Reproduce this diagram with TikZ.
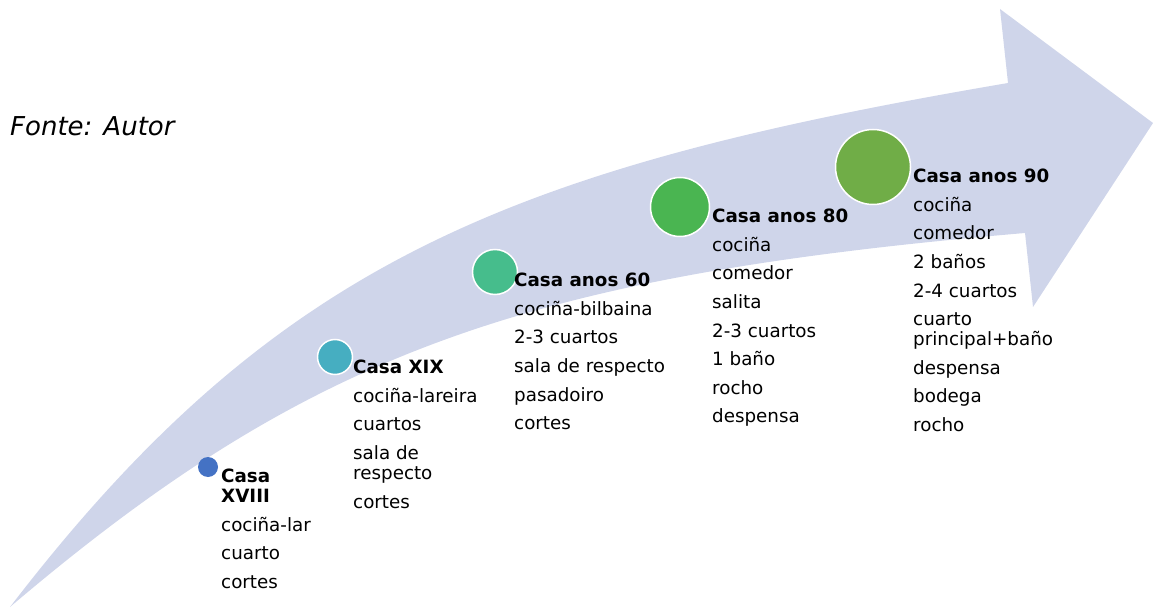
\documentclass[tikz,border=0pt]{standalone}
\usepackage{fontspec}
\setmainfont{DejaVu Sans}[BoldFont={DejaVu Sans Bold},ItalicFont={DejaVu Sans Oblique}]

\definecolor{fleche}{RGB}{207,213,234}
\definecolor{bleu}{RGB}{68,114,196}
\definecolor{turq}{RGB}{70,174,193}
\definecolor{vertbleu}{RGB}{70,189,140}
\definecolor{vert}{RGB}{74,181,81}
\definecolor{vertclair}{RGB}{112,173,71}

\begin{document}
\begin{tikzpicture}[x=1pt,y=-1pt,
  point/.style={circle, draw=white, line width=1.5pt, inner sep=0pt},
  texte/.style={anchor=north west, inner sep=0pt, align=left, font=\fontsize{18.3}{20}\selectfont}]

\useasboundingbox (0,0) rectangle (1153,609);

% La flèche
\fill[fleche] (10,607) .. controls (275,262) and (508,168) .. (1008,83)
  -- (1000,9) -- (1153,123) -- (1033,307) -- (1025,233)
  .. controls (525,276) and (310,352) .. (10,607) -- cycle;

% Source
\node[anchor=base west, inner sep=0pt, font=\fontsize{26}{30}\selectfont\itshape] (src) at (10,136) {Fonte: Autor};

% Les points
\node[point, draw=none, fill=bleu, minimum size=20pt] (d18) at (208,467) {};
\node[point, fill=turq, minimum size=35pt] (d19) at (335,357) {};
\node[point, fill=vertbleu, minimum size=45pt] (d60) at (495,272) {};
\node[point, fill=vert, minimum size=59pt] (d80) at (680,207) {};
\node[point, fill=vertclair, minimum size=75pt] (d90) at (873,167) {};

% Les textes
\node[texte] (t18) at (221,469) {\textbf{Casa}\\\textbf{XVIII}\\[8.6pt]
  cociña-lar\\[8.6pt] cuarto\\[8.6pt] cortes};
\node[texte] (t19) at (353,360) {\textbf{Casa XIX}\\[8.6pt]
  cociña-lareira\\[8.6pt] cuartos\\[8.6pt] sala de\\respecto\\[8.6pt] cortes};
\node[texte] (t60) at (514,273) {\textbf{Casa anos 60}\\[8.6pt]
  cociña-bilbaina\\[8.6pt] 2-3 cuartos\\[8.6pt] sala de respecto\\[8.6pt]
  pasadoiro\\[8.6pt] cortes};
\node[texte] (t80) at (712,209) {\textbf{Casa anos 80}\\[8.6pt]
  cociña\\[8.6pt] comedor\\[8.6pt] salita\\[8.6pt] 2-3 cuartos\\[8.6pt]
  1 baño\\[8.6pt] rocho\\[8.6pt] despensa};
\node[texte] (t90) at (913,169) {\textbf{Casa anos 90}\\[8.6pt]
  cociña\\[8.6pt] comedor\\[8.6pt] 2 baños\\[8.6pt] 2-4 cuartos\\[8.6pt]
  cuarto\\principal+baño\\[8.6pt] despensa\\[8.6pt] bodega\\[8.6pt] rocho};

\end{tikzpicture}
\end{document}
